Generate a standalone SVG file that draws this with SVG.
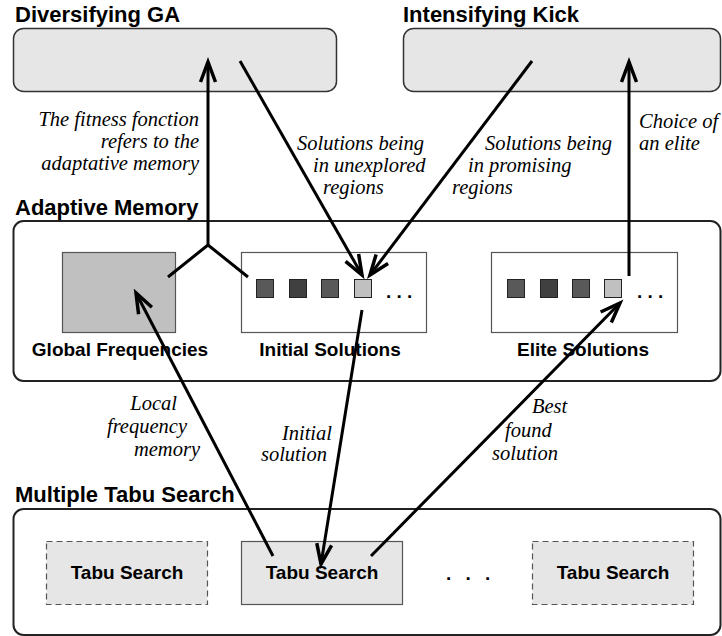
<svg xmlns="http://www.w3.org/2000/svg" width="722" height="636" viewBox="0 0 722 636">
  <style>
    .title { font-family: "Liberation Sans", Arial, sans-serif; font-weight: bold; font-size: 22px; fill: #000; }
    .label { font-family: "Liberation Sans", Arial, sans-serif; font-weight: bold; font-size: 19px; fill: #000; }
    .note { font-family: "Liberation Serif", "Times New Roman", serif; font-style: italic; font-size: 20.5px; fill: #000; }
    .module { fill: #e6e6e6; stroke: #333; stroke-width: 1.5; }
    .container { fill: #fff; stroke: #222; stroke-width: 2; }
    .store { stroke: #555; stroke-width: 1.2; }
    .sq { stroke: #222; stroke-width: 1; }
    .ts { fill: #e6e6e6; stroke: #555; stroke-width: 1.2; }
    .ts-dash { stroke-dasharray: 6 4; }
    .flow { fill: none; stroke: #000; stroke-width: 3; }
  </style>
  <defs>
    <marker id="arrow" markerUnits="userSpaceOnUse" markerWidth="30" markerHeight="20" viewBox="-22 -10 24 20" refX="0" refY="0" orient="auto">
      <path d="M-20,-7.5 L0,0 L-20,7.5" fill="none" stroke="#000" stroke-width="3.5" stroke-linejoin="miter"/>
    </marker>
  </defs>

  <rect width="722" height="636" fill="#fff"/>

  <!-- Diversifying GA -->
  <g id="diversifying-ga">
    <text class="title" x="15" y="22">Diversifying GA</text>
    <rect class="module" x="13.5" y="28.5" width="323" height="63" rx="10"/>
  </g>

  <!-- Intensifying Kick -->
  <g id="intensifying-kick">
    <text class="title" x="403" y="22">Intensifying Kick</text>
    <rect class="module" x="403.5" y="28.5" width="317" height="63" rx="10"/>
  </g>

  <!-- Adaptive Memory -->
  <g id="adaptive-memory">
    <text class="title" x="15" y="215">Adaptive Memory</text>
    <rect class="container" x="13.5" y="221" width="707" height="160" rx="10"/>
  </g>

  <g id="global-frequencies">
    <rect class="store" x="62.5" y="252.5" width="113" height="80" fill="#c0c0c0"/>
    <text class="label" x="120" y="356" text-anchor="middle">Global Frequencies</text>
  </g>

  <g id="initial-solutions">
    <rect class="store" x="241.5" y="252.5" width="185" height="80" fill="#fff"/>
    <rect class="sq" x="256.5" y="279.5" width="17" height="18" fill="#595959"/>
    <rect class="sq" x="289.5" y="279.5" width="17" height="18" fill="#404040"/>
    <rect class="sq" x="321.5" y="279.5" width="17" height="18" fill="#595959"/>
    <rect class="sq" x="354.5" y="279.5" width="17" height="18" fill="#c0c0c0"/>
    <text class="label" x="386" y="298" font-weight="normal">. . .</text>
    <text class="label" x="330" y="356" text-anchor="middle">Initial Solutions</text>
  </g>

  <g id="elite-solutions">
    <rect class="store" x="491.5" y="252.5" width="186" height="80" fill="#fff"/>
    <rect class="sq" x="507.5" y="279.5" width="17" height="18" fill="#595959"/>
    <rect class="sq" x="540.5" y="279.5" width="17" height="18" fill="#404040"/>
    <rect class="sq" x="572.5" y="279.5" width="17" height="18" fill="#595959"/>
    <rect class="sq" x="604.5" y="279.5" width="17" height="18" fill="#c0c0c0"/>
    <text class="label" x="637" y="298" font-weight="normal">. . .</text>
    <text class="label" x="583" y="356" text-anchor="middle">Elite Solutions</text>
  </g>

  <!-- Multiple Tabu Search -->
  <g id="multiple-tabu-search">
    <text class="title" x="15" y="502">Multiple Tabu Search</text>
    <rect class="container" x="13.5" y="509" width="707" height="126" rx="10"/>
  </g>

  <g id="tabu-search-1">
    <rect class="ts ts-dash" x="46.5" y="541.5" width="161" height="63"/>
    <text class="label" x="127" y="579" text-anchor="middle">Tabu Search</text>
  </g>

  <g id="tabu-search-2">
    <rect class="ts" x="241.5" y="541.5" width="161" height="63"/>
    <text class="label" x="322" y="579" text-anchor="middle">Tabu Search</text>
  </g>

  <g id="tabu-search-more">
    <text class="label" x="446" y="580" letter-spacing="4.5">. . .</text>
  </g>

  <g id="tabu-search-n">
    <rect class="ts ts-dash" x="532.5" y="541.5" width="161" height="63"/>
    <text class="label" x="613" y="579" text-anchor="middle">Tabu Search</text>
  </g>

  <!-- Connectors -->
  <g id="connectors">
    <!-- memory feeds the GA fitness -->
    <path class="flow" d="M168,277 L208,245 L248,277"/>
    <path class="flow" d="M208,245 L208,62" marker-end="url(#arrow)"/>
    <!-- GA to initial solutions -->
    <path class="flow" d="M240,61 L362,275" marker-end="url(#arrow)"/>
    <!-- kick to initial solutions -->
    <path class="flow" d="M532,61 L370,275" marker-end="url(#arrow)"/>
    <!-- elite choice to kick -->
    <path class="flow" d="M629,276 L629,62" marker-end="url(#arrow)"/>
    <!-- local frequency memory -->
    <path class="flow" d="M273,556 L136,293" marker-end="url(#arrow)"/>
    <!-- initial solution to tabu search -->
    <path class="flow" d="M362,310 L321,564" marker-end="url(#arrow)"/>
    <!-- best found solution to elite -->
    <path class="flow" d="M371,556 L620,303" marker-end="url(#arrow)"/>
  </g>

  <!-- Connector notes -->
  <g id="notes">
    <text class="note" x="199" y="126" text-anchor="end">The fitness fonction</text>
    <text class="note" x="199" y="148" text-anchor="end">refers to the</text>
    <text class="note" x="199" y="170" text-anchor="end">adaptative memory</text>

    <text class="note" x="297" y="150">Solutions being</text>
    <text class="note" x="313" y="172">in unexplored</text>
    <text class="note" x="323" y="194">regions</text>

    <text class="note" x="485" y="150">Solutions being</text>
    <text class="note" x="468" y="172">in promising</text>
    <text class="note" x="452" y="194">regions</text>

    <text class="note" x="639" y="128">Choice of</text>
    <text class="note" x="639" y="150">an elite</text>

    <text class="note" x="177" y="410" text-anchor="end">Local</text>
    <text class="note" x="187" y="433" text-anchor="end">frequency</text>
    <text class="note" x="200" y="456" text-anchor="end">memory</text>

    <text class="note" x="332" y="440" text-anchor="end">Initial</text>
    <text class="note" x="327" y="461" text-anchor="end">solution</text>

    <text class="note" x="532" y="413">Best</text>
    <text class="note" x="505" y="437">found</text>
    <text class="note" x="492" y="460">solution</text>
  </g>
</svg>
